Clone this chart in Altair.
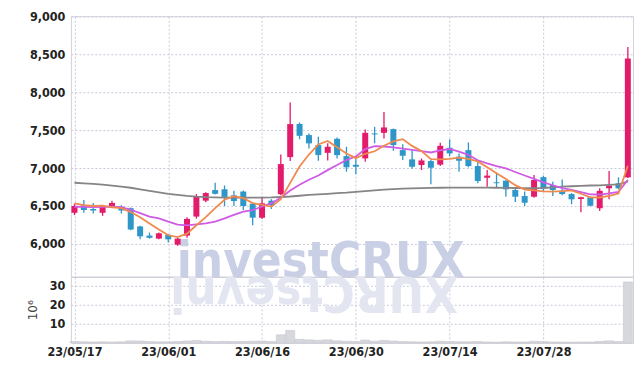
import json
import altair as alt
import pandas as pd

# ---- data ----
date_labels = ["23/05/17", "23/06/01", "23/06/16", "23/06/30", "23/07/14", "23/07/28"]
label_index = [0, 10, 20, 30, 40, 50]

opens = [6410, 6510, 6460, 6410, 6500, 6490, 6470, 6230, 6110, 6070,
         6120, 5990, 6110, 6360, 6570, 6710, 6720, 6640, 6690, 6530,
         6345, 6570, 6655, 7144, 7580, 7434, 7302, 7200, 7385, 7157,
         7043, 7127, 7456, 7464, 7513, 7236, 7114, 7040, 7092, 7045,
         7267, 7150, 7236, 7026, 6872, 6812, 6833, 6710, 6631, 6622,
         6880, 6776, 6700, 6657, 6592, 6614, 6470, 6733, 6800, 6877]
highs = [6530, 6580, 6540, 6510, 6570, 6510, 6480, 6240, 6150, 6150,
         6130, 6080, 6350, 6657, 6680, 6806, 6770, 6700, 6705, 6550,
         6622, 6590, 7180, 7864, 7601, 7456, 7411, 7325, 7404, 7280,
         7127, 7509, 7543, 7740, 7520, 7312, 7236, 7127, 7110, 7333,
         7378, 7193, 7338, 7083, 6973, 6938, 6840, 6740, 6690, 6908,
         6900, 6820, 6850, 6670, 6622, 6625, 6733, 6960, 6877, 8596]
lows = [6380, 6410, 6400, 6370, 6480, 6400, 6180, 6060, 6070, 6060,
        6020, 5975, 6080, 6333, 6550, 6650, 6500, 6500, 6447, 6245,
        6330, 6460, 6640, 7092, 7380, 7259, 7096, 7100, 7127, 6951,
        6917, 7083, 7325, 7390, 7227, 7105, 6990, 6973, 6785, 7026,
        7157, 6951, 7009, 6798, 6754, 6746, 6622, 6552, 6500, 6610,
        6690, 6631, 6640, 6522, 6417, 6495, 6434, 6588, 6720, 6870]
closes = [6500, 6447, 6440, 6490, 6540, 6440, 6190, 6100, 6080, 6140,
          6060, 6070, 6330, 6630, 6670, 6660, 6620, 6565, 6500, 6346,
          6535, 6510, 7052, 7579, 7425, 7325, 7171, 7280, 7170, 7010,
          7017, 7464, 7443, 7535, 7302, 7162, 7017, 7100, 7004, 7293,
          7193, 7096, 7026, 6829, 6900, 6800, 6720, 6622, 6543, 6842,
          6735, 6710, 6657, 6588, 6614, 6503, 6700, 6767, 6733, 8443]
ma_short = [6535, 6510, 6500, 6505, 6483, 6471, 6420, 6352, 6270, 6190,
            6114, 6090, 6136, 6246, 6352, 6472, 6582, 6629, 6603, 6538,
            6513, 6491, 6589, 6804, 7020, 7178, 7310, 7356, 7274, 7191,
            7130, 7188, 7221, 7294, 7352, 7381, 7292, 7223, 7117, 7115,
            7121, 7137, 7122, 7087, 7009, 6930, 6855, 6774, 6717, 6705,
            6692, 6690, 6697, 6706, 6661, 6614, 6612, 6634, 6663, 7029]
ma_mid = [6490, 6488, 6486, 6488, 6490, 6485, 6450, 6405, 6360, 6337,
          6293, 6255, 6244, 6258, 6271, 6293, 6336, 6383, 6425, 6445,
          6493, 6537, 6609, 6704, 6779, 6846, 6901, 6972, 7039, 7106,
          7154, 7249, 7288, 7284, 7272, 7255, 7240, 7222, 7205, 7234,
          7251, 7215, 7173, 7102, 7062, 7026, 6996, 6948, 6902, 6857,
          6811, 6773, 6736, 6712, 6683, 6653, 6651, 6666, 6685, 6845]
ma_long = [6806, 6798, 6790, 6780, 6768, 6755, 6740, 6720, 6700, 6680,
           6660, 6645, 6632, 6622, 6616, 6613, 6611, 6610, 6609, 6609,
           6610, 6612, 6618, 6625, 6635, 6645, 6652, 6660, 6668, 6675,
           6685, 6695, 6705, 6715, 6722, 6728, 6732, 6735, 6738, 6740,
           6741, 6742, 6742, 6742, 6741, 6740, 6738, 6737, 6736, 6736,
           6737, 6745, 6755, 6760, 6765, 6770, 6772, 6778, 6785, 6820]
volume = [0.6, 0.5, 0.4, 0.5, 0.4, 0.5, 1.0, 0.9, 0.6, 0.5,
          0.5, 0.6, 0.9, 1.2, 0.8, 0.6, 0.7, 0.6, 0.7, 0.8,
          0.9, 0.6, 4.2, 6.5, 1.8, 1.5, 1.3, 1.5, 1.0, 0.8,
          0.6, 1.4, 0.8, 1.2, 0.9, 0.6, 0.5, 0.4, 0.5, 0.8,
          0.6, 0.5, 0.5, 0.6, 0.4, 0.3, 0.5, 0.4, 0.4, 0.8,
          0.6, 0.4, 0.4, 0.3, 0.4, 0.4, 0.7, 1.0, 0.6, 32.0]
price_ticks = [6000, 6500, 7000, 7500, 8000, 8500, 9000]
volume_ticks = [10, 20, 30]
watermark = "investCRUX"

df = pd.DataFrame({
    "i": list(range(len(closes))),
    "open": opens, "high": highs, "low": lows, "close": closes,
    "ma_short": ma_short, "ma_mid": ma_mid, "ma_long": ma_long,
    "vol": volume,
})

RED = "#e31b6b"
BLUE = "#2e96c8"
FONT = "DejaVu Sans Condensed, DejaVu Sans, sans-serif"
WM_FONT = "DejaVu Sans Condensed, DejaVu Sans, sans-serif"
WM_SIZE = 49
W = 563
H_PRICE = 261
H_VOL = 66

xscale = alt.Scale(domain=[-0.38, 59.55], nice=False, zero=False, padding=0)
label_expr = json.dumps(date_labels) + "[round(datum.value / 10)]"

base = alt.Chart(df).transform_calculate(
    dir="datum.close >= datum.open ? 'up' : 'down'"
)
color = alt.Color("dir:N", scale=alt.Scale(domain=["up", "down"], range=[RED, BLUE]), legend=None)

x_price = alt.X("i:Q", scale=xscale,
                axis=alt.Axis(values=label_index, labels=False, ticks=False, domain=True,
                              domainColor="#b4b4bc", grid=True, title=None))
yscale = alt.Scale(domain=[5566, 9000], nice=False, zero=False, padding=0)
y_axis = alt.Axis(values=price_ticks, format=",.0f", title=None, ticks=False, labelPadding=6,
                  domain=False, grid=True)

wm = alt.Chart(pd.DataFrame({"t": [watermark]})).mark_text(
    font=WM_FONT, fontSize=WM_SIZE, fontWeight="bold", color="#c9cfe4",
    align="left", baseline="alphabetic"
).encode(text="t:N", x=alt.value(106), y=alt.value(H_PRICE))

wicks = base.mark_rule(strokeWidth=1.3).encode(
    x=x_price, y=alt.Y("low:Q", scale=yscale, axis=y_axis), y2="high:Q", color=color)
bodies = base.mark_bar(size=6).encode(
    x=x_price, y=alt.Y("open:Q", scale=yscale), y2="close:Q", color=color)
line_long = base.mark_line(color="#858585", strokeWidth=1.8).encode(
    x=x_price, y=alt.Y("ma_long:Q", scale=yscale))
line_mid = base.mark_line(color="#cf5be6", strokeWidth=1.8).encode(
    x=x_price, y=alt.Y("ma_mid:Q", scale=yscale))
line_short = base.mark_line(color="#ef8a4f", strokeWidth=1.8).encode(
    x=x_price, y=alt.Y("ma_short:Q", scale=yscale))

price = alt.layer(wm, wicks, bodies, line_long, line_mid, line_short).properties(
    width=W, height=H_PRICE)

x_vol = alt.X("i:Q", scale=xscale,
              axis=alt.Axis(values=label_index, labelExpr=label_expr, ticks=False, domain=True,
                            domainColor="#d0d0d8", grid=True, title=None, labelPadding=3))
reflect = alt.Chart(pd.DataFrame({"t": [watermark[::-1]]})).mark_text(
    font=WM_FONT, fontSize=WM_SIZE, fontWeight="bold", color="#e3e6f0",
    align="left", baseline="alphabetic", angle=180
).encode(text="t:N", x=alt.value(388), y=alt.value(0))

vbars = alt.Chart(df).mark_bar(size=9, color="#d7d7de", stroke="#c6c6ce", strokeWidth=0.6).encode(
    x=x_vol,
    y=alt.Y("vol:Q", scale=alt.Scale(domain=[0, 34.7], nice=False, padding=0),
            axis=alt.Axis(values=volume_ticks, title="10⁶", ticks=False, labelPadding=6,
                          domain=False, grid=True, titleFont="DejaVu Sans", titleFontSize=12,
                          titleFontWeight="normal", titleColor="#444", titlePadding=10)),
)
vol = alt.layer(reflect, vbars).properties(width=W, height=H_VOL)

chart = alt.vconcat(price, vol, spacing=0, bounds="flush").properties(
    padding={"left": 17, "top": 1, "right": 0, "bottom": 0}
).configure_view(stroke="#d2d2de").configure_axis(
    labelFont=FONT, labelFontSize=12.5, labelFontWeight="bold", labelColor="#222",
    gridColor="#c9c9da", gridDash=[2, 2], gridWidth=1,
)

chart.save("out.html", embed_options={"renderer": "svg", "actions": False})
